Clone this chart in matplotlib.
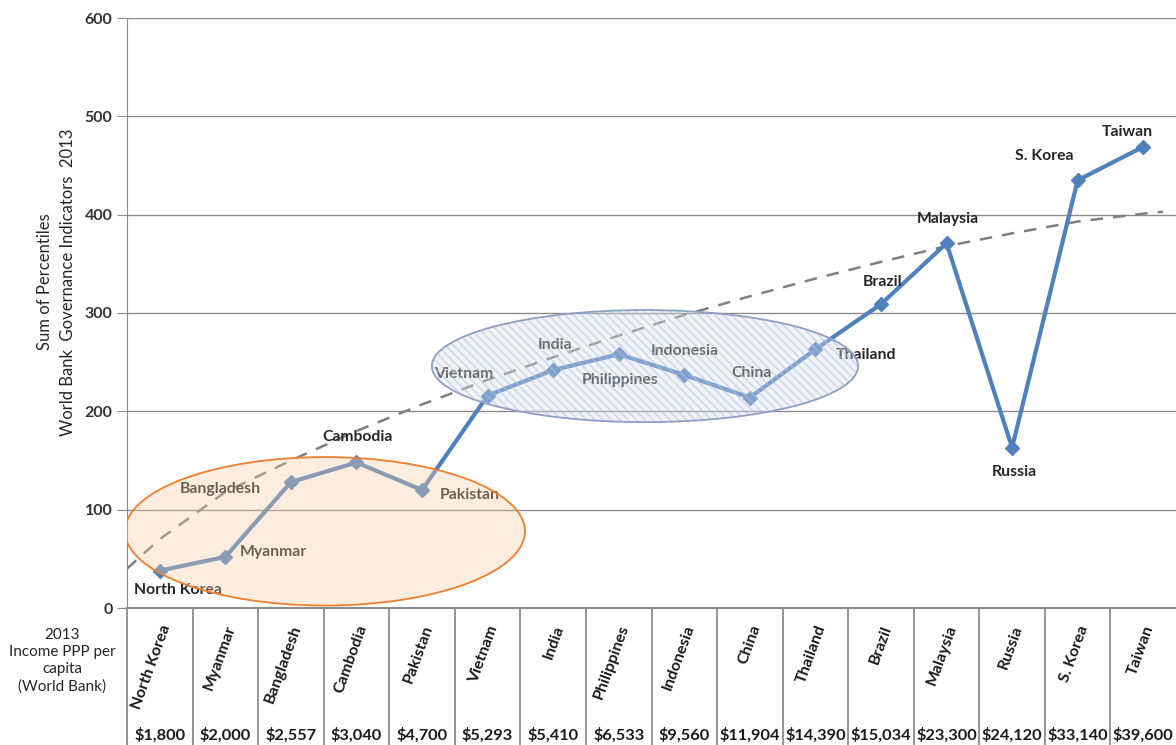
"""
治理指标与人均收入图表复刻
"""

import numpy as np
import matplotlib
matplotlib.use('Agg')
import matplotlib.pyplot as plt
from matplotlib.patches import Ellipse

plt.rcParams['font.family'] = ['Lato', 'DejaVu Sans']

# 数据
countries = ['North Korea', 'Myanmar', 'Bangladesh', 'Cambodia', 'Pakistan',
             'Vietnam', 'India', 'Philippines', 'Indonesia', 'China',
             'Thailand', 'Brazil', 'Malaysia', 'Russia', 'S. Korea', 'Taiwan']
income = ['$1,800', '$2,000', '$2,557', '$3,040', '$4,700', '$5,293', '$5,410',
          '$6,533', '$9,560', '$11,904', '$14,390', '$15,034', '$23,300',
          '$24,120', '$33,140', '$39,600']
governance = [38, 52, 128, 148, 120, 216, 242, 258, 237, 214, 263, 309, 371,
              163, 435, 469]

# 趋势线
trend_x = [-0.5, 0, 1, 2, 3, 4, 5, 6, 7, 8, 9, 10, 11, 12, 13, 14, 15, 15.3]
trend_y = [40, 70, 118, 150, 180, 207, 232, 255, 277, 298, 317, 335, 352,
           368, 381, 393, 401, 403]

# 标签位置 (x, y)
label_x = [0.28, 1.74, 0.93, 3.02, 4.73, 4.63, 6.03, 7.03, 8.01, 9.02,
           10.77, 11.03, 12.02, 13.03, 13.49, 14.75]
label_y = [18, 57, 121, 174, 115, 238, 267, 232, 261, 239,
           257, 332, 396, 138, 460, 484]

W, H = 1176, 745
fig = plt.figure(figsize=(W / 100, H / 100), dpi=100)
ax = fig.add_axes([127 / W, 137 / H, 1049 / W, 590 / H])

n = len(countries)
x = np.arange(n)

ax.set_xlim(-0.5, n - 0.5)
ax.set_ylim(0, 600)
ax.set_yticks(range(0, 601, 100))
ax.yaxis.grid(True, color='#8c8c8c', linewidth=1)
ax.set_axisbelow(True)
for s in ['top', 'right']:
    ax.spines[s].set_visible(False)
ax.spines['left'].set_color('#8c8c8c')
ax.spines['bottom'].set_color('#8c8c8c')
ax.spines['bottom'].set_linewidth(1.5)
ax.tick_params(axis='y', length=7, color='#8c8c8c', labelsize=11.5,
               labelcolor='#333333')
for t in ax.get_yticklabels():
    t.set_fontweight('bold')
ax.set_xticks([])

# 主折线
ax.plot(x, governance, color='#4f81bd', linewidth=3, marker='D',
        markersize=7, zorder=3)

# 趋势线
ax.plot(trend_x, trend_y, color='#7f7f7f', linewidth=1.8,
        linestyle=(0, (5, 4)), zorder=2)

# 数据标签
for name, lx, ly in zip(countries, label_x, label_y):
    ax.text(lx, ly, name, ha='center', va='center', fontsize=11.3,
            fontweight='bold', color='#262626', zorder=4)

# 椭圆
plt.rcParams['hatch.linewidth'] = 1.1
ax.add_patch(Ellipse((2.52, 78), 6.1, 151, facecolor=(0.98, 0.80, 0.65, 0.35),
                     edgecolor='none', zorder=5))
ax.add_patch(Ellipse((2.52, 78), 6.1, 151, facecolor='none',
                     edgecolor='#f07f2d', linewidth=1.3, zorder=6))
ax.add_patch(Ellipse((7.40, 246), 6.5, 114, facecolor=(0.84, 0.87, 0.93, 0.35),
                     edgecolor=(0.70, 0.75, 0.86, 0.55), hatch='\\\\\\\\',
                     linewidth=0, zorder=5))
ax.add_patch(Ellipse((7.40, 246), 6.5, 114, facecolor='none',
                     edgecolor='#8e9fc6', linewidth=1.3, zorder=6))

# Y轴标题
fig.text(45 / W, 1 - 282 / H, 'Sum of Percentiles', rotation=90,
         ha='center', va='center', fontsize=12, color='#262626')
fig.text(68 / W, 1 - 282 / H, 'World Bank  Governance Indicators  2013',
         rotation=90, ha='center', va='center', fontsize=12,
         color='#262626')

# 下方表格
tr = ax.get_xaxis_transform()
for i in range(n):
    ax.plot([i - 0.5, i - 0.5], [0, -0.25], transform=tr, color='#8c8c8c',
            linewidth=1.3, clip_on=False)
    ax.text(i + 0.1, -0.03, countries[i], transform=tr, rotation=70,
            rotation_mode='anchor', ha='right', va='center', fontsize=11.5,
            fontweight='bold', color='#1a1a1a')
    ax.text(i, -0.215, income[i], transform=tr, ha='center', va='center',
            fontsize=11.8, fontweight='bold', color='#1a1a1a')

fig.text(62 / W, 1 - 661 / H, '2013\nIncome PPP per\ncapita\n(World Bank)',
         ha='center', va='center', fontsize=11, color='#262626',
         linespacing=1.3)

fig.savefig('out.png', dpi=100)
